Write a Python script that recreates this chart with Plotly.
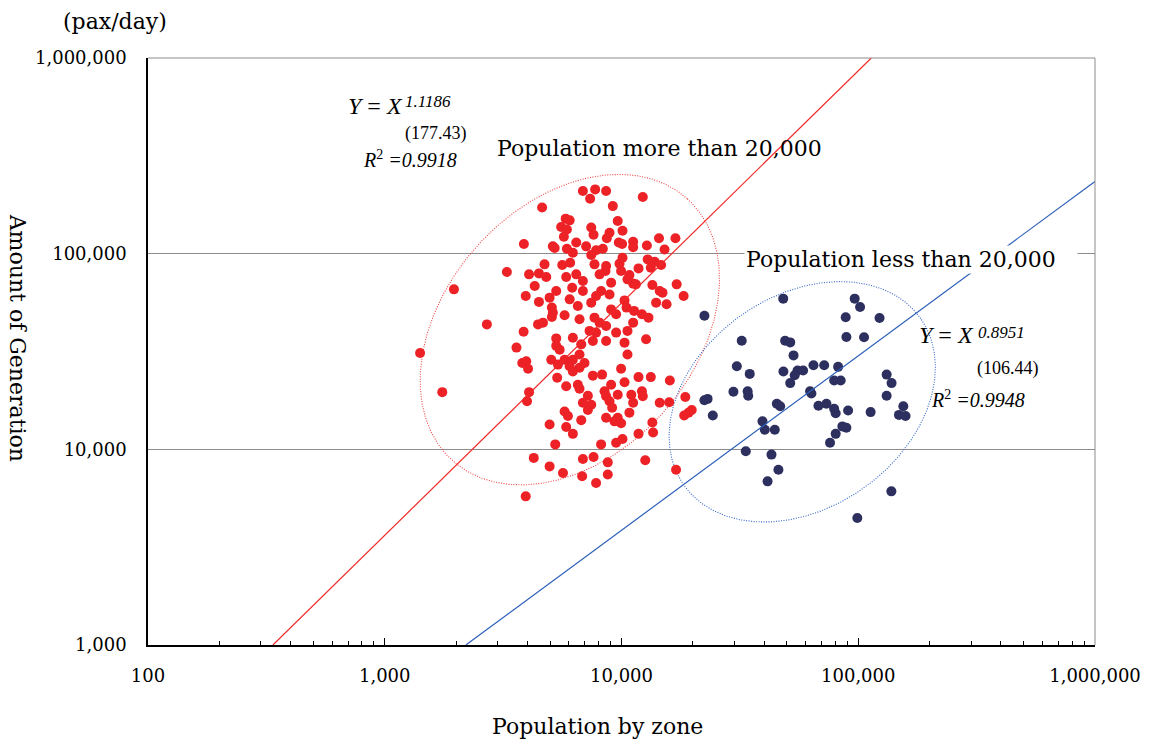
import numpy as np
import plotly.graph_objects as go

# ---------------- data ----------------
# "Population more than 20,000" group (red)
red_pop = [4620, 5560, 5810, 5710, 3870, 5130, 5220, 5880, 4730, 5620, 3280, 4070, 4480, 4810, 5840,
           4300, 1960, 5300, 3940, 4970, 4480, 5080, 5130, 5750, 5080, 2700, 4440, 4660, 3860, 5300,
           3600, 5300, 6870, 7740, 8610, 7370, 12300, 9190, 6040, 5880, 9640, 7450, 7620, 10100, 8900,
           8670, 14400, 16900, 6440, 7090, 9740, 10060, 11200, 11200, 12800, 15200, 8340, 7810, 7450, 6230,
           10100, 9810, 6070, 7690, 8610, 12900, 13800, 14700, 11800, 13300, 9960, 10800, 8560, 6440, 8080,
           6870, 9040, 11200, 10600, 11500, 13500, 6190, 6870, 8200, 14500, 17100, 14900, 18300, 7810, 8900,
           6040, 10300, 7450, 14000, 15500, 6540, 9040, 10500, 11300, 7690, 9490, 12200, 13000, 6650, 8080,
           11200, 8610, 10600, 7330, 9490, 6230, 7810, 12700, 10300, 7570, 8610, 6760, 1410, 3810, 3960,
           4030, 5480, 5050, 5390, 5750, 5350, 5840, 1750, 4070, 3990, 5750, 4970, 5840, 5250, 4260,
           4970, 5660, 3940, 6650, 10600, 6230, 6980, 6040, 6650, 6230, 9960, 7570, 8280, 11800, 13300,
           16000, 10300, 9040, 6540, 6650, 8480, 12200, 7210, 8610, 9640, 11000, 8900, 12300, 6870, 7450,
           11200, 14500, 15900, 18600, 9130, 7210, 10800, 18400, 19800, 19200, 5940, 8610, 9640, 9960, 9340,
           6760, 13500, 6230, 11800, 13600, 10100, 9490, 8200, 6870, 7620, 8750, 12600, 6820, 8750, 7810,
           17000]
red_gen = [172000, 136800, 151000, 122000, 112000, 109000, 107000, 106000, 88200, 87500, 80600, 78400, 79300, 76000, 76000,
           68400, 65700, 64500, 60800, 59600, 56700, 53000, 49900, 48400, 47500, 43500, 43500, 44400, 39900, 36900,
           33100, 33800, 209000, 213000, 209000, 191000, 195000, 175000, 148000, 133000, 147000, 136000, 125000, 131000, 128000,
           120000, 120000, 120000, 114000, 109000, 114000, 112000, 115000, 108000, 110000, 105000, 106000, 104000, 98500, 101000,
           95400, 88900, 89900, 88200, 86500, 93500, 91000, 87500, 84100, 84800, 81600, 77800, 81600, 78400, 78400,
           72500, 71100, 70300, 73900, 69700, 69200, 67000, 64500, 64500, 64500, 69700, 63200, 60800, 60800, 61900,
           58400, 57700, 56200, 56200, 55100, 54000, 51900, 53000, 51000, 47100, 49000, 49000, 47100, 46200, 44400,
           44400, 42700, 40300, 40300, 39500, 37200, 39500, 36500, 35100, 35800, 35800, 34400, 31100, 27600, 28200,
           25800, 32300, 28700, 27100, 28700, 23200, 21000, 19600, 19600, 17600, 15600, 13400, 13000, 10600, 9040,
           8180, 7570, 5750, 30500, 30500, 28700, 27600, 26600, 26100, 25000, 25800, 23800, 24100, 23400, 23400,
           22500, 22000, 21400, 21400, 20400, 19800, 19800, 18800, 18700, 19000, 19000, 17600, 18700, 17300, 16900,
           17300, 17300, 17400, 18500, 16300, 15900, 15400, 14900, 15900, 15400, 14800, 14500, 14500, 13600, 13900,
           14100, 13700, 12000, 12000, 12200, 11300, 10800, 10600, 8930, 9140, 8580, 8790, 7280, 7430, 6730,
           7870]

# "Population less than 20,000" group (navy)
blue_pop = [22400, 48200, 96600, 88500, 89100, 32200, 49100, 51600, 53300, 30700, 34800, 48300, 55400, 58500,
            53900, 64700, 71800, 82200, 51600, 79100, 84300, 29700, 34100, 34300, 62600, 63400, 22400, 23100,
            24300, 45300, 46800, 67900, 73400, 79100, 80300, 90600, 39400, 40300, 44400, 85700, 89100, 80300,
            76000, 33500, 43000, 46000, 41400, 99100, 101800, 123000, 105800, 131800, 138300, 131800, 112800,
            155000, 148600, 158400, 138000]
blue_gen = [48200, 58900, 58900, 47300, 37500, 35900, 35900, 35200, 30200, 26600, 24300, 25000, 25300, 25300,
            23900, 26900, 26900, 26400, 21800, 22500, 22500, 19700, 19800, 18800, 19800, 19300, 17800, 18100,
            14900, 17100, 16600, 16700, 17100, 16100, 15300, 15800, 13900, 12600, 12600, 13100, 12900, 12000,
            10800, 9770, 9400, 7870, 6860, 4460, 53400, 46900, 37400, 24100, 21800, 18800, 15500,
            16600, 15000, 14800, 6100]

# fitted lines (end points)
red_line_pop = [337, 113500]
red_line_gen = [1000, 1000000]
blue_line_pop = [2200, 1000000]
blue_line_gen = [1000, 234000]

x_tickvals = [100, 1000, 10000, 100000, 1000000]
x_ticktext = ["100", "1,000", "10,000", "100,000", "1,000,000"]
y_tickvals = [1000, 10000, 100000, 1000000]
y_ticktext = ["1,000", "10,000", "100,000", "1,000,000"]

# ---------------- layout geometry ----------------
W, H = 1153, 740
ML, MR, MT, MB = 148, 56, 58, 95
PW, PH = W - ML - MR, H - MT - MB
PX_DEC_X = PW / 4.0
PX_DEC_Y = PH / 3.0


def px(x):
    return (x - ML) / PW


def py(y):
    return (H - MB - y) / PH


def ellipse(cx, cy, a_px, b_px, ang_deg, n=400):
    t = np.linspace(0, 2 * np.pi, n)
    th = np.radians(ang_deg)
    du = a_px * np.cos(t) * np.cos(th) - b_px * np.sin(t) * np.sin(th)
    dv = a_px * np.cos(t) * np.sin(th) + b_px * np.sin(t) * np.cos(th)
    return 10 ** (np.log10(cx) + du / PX_DEC_X), 10 ** (np.log10(cy) + dv / PX_DEC_Y)


SERIF = "DejaVu Serif"
TIMES = "Liberation Serif"
RED = "rgb(236,34,39)"
NAVY = "rgb(45,48,95)"

fig = go.Figure()

ex, ey = ellipse(6050, 40900, 176, 125, 48)
fig.add_trace(go.Scatter(x=ex, y=ey, mode="lines", hoverinfo="skip",
                         line=dict(color="rgb(240,70,70)", width=1.1, dash="1px,1.5px")))
ex, ey = ellipse(58000, 17500, 145, 106, 35)
fig.add_trace(go.Scatter(x=ex, y=ey, mode="lines", hoverinfo="skip",
                         line=dict(color="rgb(50,100,200)", width=1.1, dash="1px,1.5px")))

fig.add_trace(go.Scatter(x=red_pop, y=red_gen, mode="markers",
                         marker=dict(color=RED, size=10, line=dict(width=0)), name="more"))
fig.add_trace(go.Scatter(x=blue_pop, y=blue_gen, mode="markers",
                         marker=dict(color=NAVY, size=10, line=dict(width=0)), name="less"))

fig.add_trace(go.Scatter(x=red_line_pop, y=red_line_gen, mode="lines",
                         line=dict(color="rgb(242,40,40)", width=1.2)))
fig.add_trace(go.Scatter(x=blue_line_pop, y=blue_line_gen, mode="lines",
                         line=dict(color="rgb(45,95,185)", width=1.2)))

fig.update_layout(
    width=W, height=H, showlegend=False,
    margin=dict(l=ML, r=MR, t=MT, b=MB, pad=0),
    paper_bgcolor="white", plot_bgcolor="white",
    font=dict(family=SERIF, size=18, color="black"),
)
fig.update_xaxes(
    type="log", range=[2, 6], showgrid=False, zeroline=False,
    showline=True, linecolor="black", linewidth=1.5,
    tickmode="array", tickvals=x_tickvals, ticktext=x_ticktext,
    ticks="inside", ticklen=7, tickwidth=1, tickcolor="black",
    ticklabelstandoff=14, tickfont=dict(family=SERIF, size=18),
    minor=dict(tickvals=[m * 10 ** e for e in (2, 3, 4, 5) for m in range(2, 10)],
               ticks="inside", ticklen=4, tickwidth=1, tickcolor="black", showgrid=False),
)
fig.update_yaxes(
    type="log", range=[3, 6], showgrid=True, gridcolor="rgb(140,140,140)", gridwidth=1,
    zeroline=False, showline=True, linecolor="black", linewidth=1.5,
    tickmode="array", tickvals=y_tickvals, ticktext=y_ticktext,
    ticks="", ticklabelstandoff=16, tickfont=dict(family=SERIF, size=18),
)

fig.add_shape(type="line", xref="paper", yref="paper", x0=0, x1=1, y0=1, y1=1,
              line=dict(color="rgb(140,140,140)", width=1))
fig.add_shape(type="line", xref="paper", yref="paper", x0=1, x1=1, y0=0, y1=1,
              line=dict(color="rgb(140,140,140)", width=1))


def note(text, x, y, size, family=SERIF, xanchor="center", **kw):
    fig.add_annotation(text=text, xref="paper", yref="paper", x=px(x), y=py(y),
                       xanchor=xanchor, yanchor="middle", showarrow=False,
                       font=dict(family=family, size=size, color="black"), **kw)


note("(pax/day)", 115, 22, 22)
note("Amount of Generation", 18, 338, 22, textangle=90)
note("Population by zone", 598, 727, 22)
note("Population more than 20,000", 661, 148, 22)
note("Population less than 20,000", 745, 259, 22, xanchor="left",
     bgcolor="white", width=330, align="left")

# red fit
note("<i>Y</i> = <i>X</i>", 346, 106, 24, family=TIMES, xanchor="left")
note("<i>1.1186</i>", 404, 102, 17, family=TIMES, xanchor="left")
note("(177.43)", 404, 133, 18, family=TIMES, xanchor="left")
note("<i>R</i><sup>2</sup> <i>=0.9918</i>", 361, 159, 20, family=TIMES, xanchor="left")
# navy fit
note("<i>Y</i> = <i>X</i>", 919, 335, 24, family=TIMES, xanchor="left")
note("<i>0.8951</i>", 978, 332, 17, family=TIMES, xanchor="left")
note("(106.44)", 977, 368, 18, family=TIMES, xanchor="left")
note("<i>R</i><sup>2</sup> <i>=0.9948</i>", 931, 399, 20, family=TIMES, xanchor="left")

fig.write_html("out.html")
